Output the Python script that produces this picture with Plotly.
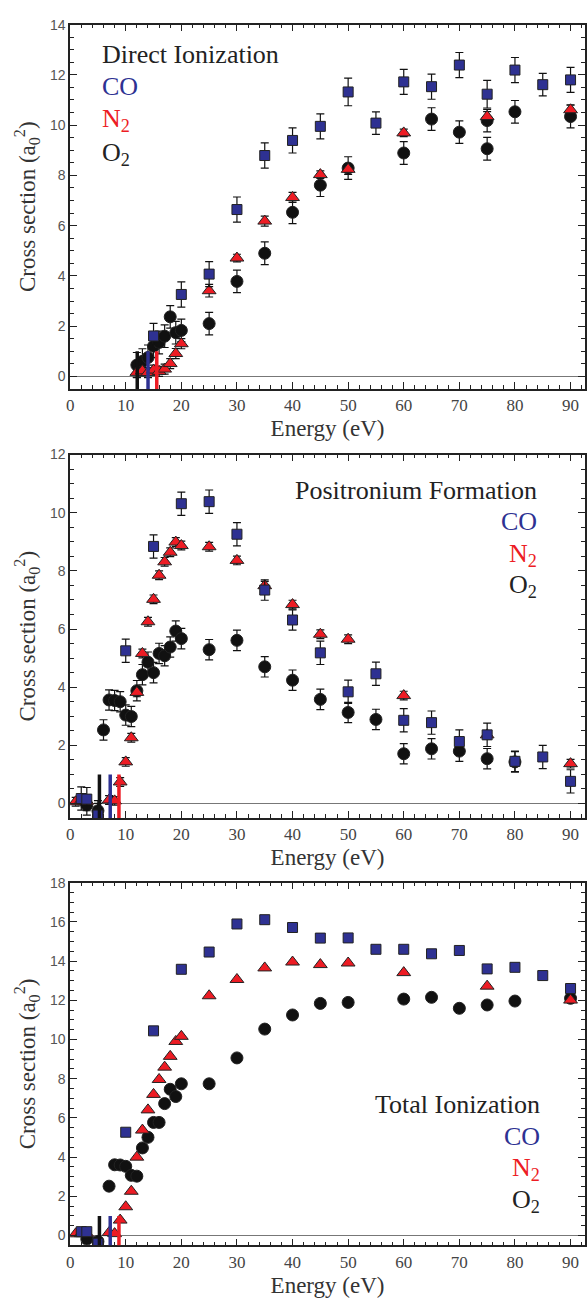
import plotly.graph_objects as go

# ---------------- data ----------------
# Panel 1: Direct ionization
di_co_x = [15, 20, 25, 30, 35, 40, 45, 50, 55, 60, 65, 70, 75, 80, 85, 90]
di_co_y = [1.61, 3.26, 4.07, 6.64, 8.79, 9.39, 9.95, 11.32, 10.08, 11.72, 11.53, 12.39, 11.23, 12.19, 11.61, 11.8]
di_co_err = [0.5, 0.5, 0.5, 0.5, 0.5, 0.5, 0.5, 0.55, 0.45, 0.5, 0.5, 0.5, 0.55, 0.5, 0.45, 0.5]

di_n2_x = [12, 13, 14, 15, 16, 17, 18, 19, 20, 25, 30, 35, 40, 45, 50, 60, 75, 90]
di_n2_y = [0.16, 0.22, 0.15, 0.25, 0.2, 0.29, 0.51, 0.91, 1.3, 3.41, 4.71, 6.18, 7.12, 8.03, 8.24, 9.69, 10.34, 10.61]
di_n2_err = [0.2, 0.2, 0.2, 0.2, 0.2, 0.2, 0.2, 0.2, 0.2, 0.25, 0.15, 0.2, 0.2, 0.15, 0.2, 0.15, 0.2, 0.2]

di_o2_x = [12, 13, 14, 15, 16, 17, 18, 19, 20, 25, 30, 35, 40, 45, 50, 60, 65, 70, 75, 75, 80, 90]
di_o2_y = [0.45, 0.6, 0.75, 1.2, 1.35, 1.6, 2.37, 1.74, 1.83, 2.1, 3.78, 4.9, 6.53, 7.61, 8.29, 8.89, 10.24, 9.72, 10.18, 9.06, 10.53, 10.34]
di_o2_err = [0.5, 0.5, 0.5, 0.45, 0.45, 0.45, 0.45, 0.45, 0.45, 0.45, 0.45, 0.45, 0.45, 0.45, 0.45, 0.45, 0.45, 0.45, 0.45, 0.45, 0.45, 0.45]

# Panel 2: Positronium formation
ps_co_x = [2, 3, 5, 10, 15, 20, 25, 30, 35, 40, 45, 50, 55, 60, 65, 70, 75, 80, 85, 90]
ps_co_y = [0.17, 0.15, -0.4, 5.25, 8.84, 10.31, 10.38, 9.26, 7.34, 6.31, 5.18, 3.84, 4.46, 2.86, 2.78, 2.13, 2.36, 1.45, 1.6, 0.76]
ps_co_err = [0.4, 0.4, 0.4, 0.4, 0.4, 0.4, 0.4, 0.4, 0.35, 0.35, 0.4, 0.4, 0.4, 0.4, 0.4, 0.4, 0.4, 0.35, 0.4, 0.4]

ps_n2_x = [1, 2, 3, 7, 8, 9, 10, 11, 12, 13, 14, 15, 16, 17, 18, 19, 20, 25, 30, 35, 40, 45, 50, 60, 75, 90]
ps_n2_y = [0.06, 0.1, 0.08, 0.12, 0.09, 0.74, 1.43, 2.26, 3.82, 5.16, 6.25, 7.02, 7.85, 8.31, 8.64, 8.99, 8.87,
           8.83, 8.36, 7.49, 6.84, 5.82, 5.65, 3.71, 2.36, 1.37]
ps_n2_err = [0.15] * 26

ps_o2_x = [3, 5, 6, 7, 8, 9, 10, 11, 12, 13, 14, 15, 16, 17, 18, 19, 20, 25, 30, 35, 40, 45, 50, 55, 60, 65, 70, 75, 80]
ps_o2_y = [-0.05, -0.25, 2.53, 3.56, 3.54, 3.5, 3.04, 2.99, 3.88, 4.43, 4.86, 4.5, 5.16, 5.08, 5.38, 5.93, 5.67,
           5.29, 5.61, 4.7, 4.24, 3.58, 3.13, 2.89, 1.71, 1.88, 1.8, 1.54, 1.43]
ps_o2_err = [0.35] * 29

# Panel 3: Total ionization
ti_co_x = [2, 3, 5, 10, 15, 20, 25, 30, 35, 40, 45, 50, 55, 60, 65, 70, 75, 80, 85, 90]
ti_co_y = [0.2, 0.2, -0.39, 5.27, 10.44, 13.58, 14.46, 15.89, 16.11, 15.71, 15.17, 15.18, 14.6, 14.6, 14.37,
           14.54, 13.6, 13.68, 13.26, 12.6]

ti_n2_x = [1, 2, 3, 7, 8, 9, 10, 11, 12, 13, 14, 15, 16, 17, 18, 19, 20, 25, 30, 35, 40, 45, 50, 60, 75, 90]
ti_n2_y = [0.09, 0.1, 0.1, 0.15, 0.1, 0.79, 1.47, 2.26, 4.0, 5.38, 6.41, 7.2, 7.96, 8.59, 9.14, 9.9, 10.16,
           12.23, 13.06, 13.65, 13.95, 13.82, 13.9, 13.41, 12.72, 12.01]

ti_o2_x = [3, 5, 7, 8, 9, 10, 11, 12, 13, 14, 15, 16, 17, 18, 19, 20, 25, 30, 35, 40, 45, 50, 60, 65, 70, 75, 80, 90]
ti_o2_y = [-0.18, -0.3, 2.52, 3.61, 3.6, 3.53, 3.07, 3.03, 4.47, 5.01, 5.77, 5.77, 6.73, 7.46, 7.09, 7.74,
           7.74, 9.06, 10.53, 11.25, 11.84, 11.89, 12.06, 12.15, 11.59, 11.76, 11.96, 12.1]

# threshold energies (eV): O2, CO, N2
ion_thresholds = [12.07, 14.01, 15.58]
ps_thresholds = [5.27, 7.21, 8.78]

x_ticks = [0, 10, 20, 30, 40, 50, 60, 70, 80, 90]
panel_titles = ["Direct Ionization", "Positronium Formation", "Total Ionization"]
y_ranges = [[-0.5, 14], [-0.5, 12], [-0.5, 18]]

# ---------------- style ----------------
W, H = 587, 1307
CO_C = "#2E3192"
N2_C = "#ED1C24"
O2_C = "#111111"
SERIF = "Liberation Serif, Times New Roman, serif"
SANS = "Liberation Sans, Arial, sans-serif"

def py(p):  # pixel y -> paper
    return 1 - p / H

def px(p):
    return p / W

domains_px = [(16.7, 383.3), (449.3, 815.0), (880.0, 1245.0)]

fig = go.Figure()

def add_series(i, xs, ys, err, symbol, color, size):
    ax = "" if i == 0 else str(i + 1)
    kw = {}
    if err is not None:
        kw["error_y"] = dict(type="data", array=err, visible=True, color="#111", thickness=1.2, width=4)
    fig.add_trace(go.Scatter(
        x=xs, y=ys, mode="markers", xaxis="x" + ax, yaxis="y" + ax, showlegend=False,
        marker=dict(symbol=symbol, size=size, color=color, line=dict(color="#222", width=1)),
        **kw))

series = [
    [(di_co_x, di_co_y, di_co_err), (di_n2_x, di_n2_y, di_n2_err), (di_o2_x, di_o2_y, di_o2_err)],
    [(ps_co_x, ps_co_y, ps_co_err), (ps_n2_x, ps_n2_y, ps_n2_err), (ps_o2_x, ps_o2_y, ps_o2_err)],
    [(ti_co_x, ti_co_y, None), (ti_n2_x, ti_n2_y, None), (ti_o2_x, ti_o2_y, None)],
]
thresholds = [ion_thresholds, ps_thresholds, ps_thresholds]

for i, (co, n2, o2) in enumerate(series):
    add_series(i, *o2, "circle", O2_C, 12)
    add_series(i, *n2, "triangle-up", N2_C, 12)
    add_series(i, *co, "square", CO_C, 10)

xtick_font = dict(family=SERIF, size=17, color="#444")
ytick_font = dict(family=SANS, size=14, color="#555")
title_font = dict(family=SERIF, size=23, color="#333")

layout = dict(
    width=W, height=H, margin=dict(l=0, r=0, t=0, b=0),
    paper_bgcolor="white", plot_bgcolor="white",
    shapes=[], annotations=[],
)

for i in range(3):
    ax = "" if i == 0 else str(i + 1)
    top, bot = domains_px[i]
    layout["xaxis" + ax] = dict(
        domain=[px(66.7), px(586)], range=[0, 92.6], anchor="y" + ax,
        tickvals=x_ticks, ticks="inside", ticklen=7, tickwidth=1.2, tickcolor="#222",
        minor=dict(dtick=2, ticks="inside", ticklen=4, tickcolor="#222"),
        showline=True, linecolor="#222", linewidth=1.5, mirror="allticks",
        showgrid=False, zeroline=False, tickfont=xtick_font,
        title=dict(text="Energy (eV)", font=title_font, standoff=6),
    )
    layout["yaxis" + ax] = dict(
        domain=[py(bot), py(top)], range=y_ranges[i], anchor="x" + ax,
        dtick=2, tick0=0, ticks="inside", ticklen=7, tickwidth=1.2, tickcolor="#222",
        minor=dict(dtick=0.5, ticks="inside", ticklen=4, tickcolor="#222"),
        showline=True, linecolor="#222", linewidth=1.5, mirror="allticks",
        showgrid=False, zeroline=True, zerolinecolor="#777", zerolinewidth=1.2,
        tickfont=ytick_font,
        title=dict(text="Cross section (a<sub>0</sub><sup>2</sup>)", font=title_font, standoff=8),
    )
    for e, c in zip(thresholds[i], [O2_C, CO_C, N2_C]):
        layout["shapes"].append(dict(type="line", xref="x" + ax, yref="y" + ax,
                                     x0=e, x1=e, y0=y_ranges[i][0], y1=1,
                                     line=dict(color=c, width=3.5)))

# panel labels / legends
leg_font = dict(family=SERIF, size=26)
# panel 1: left aligned
lx = px(97)
for txt, ypx, col in [(panel_titles[0], 47, "#222"), ("CO", 79, CO_C), ("N<sub>2</sub>", 113, N2_C),
                      ("O<sub>2</sub>", 147, "#222")]:
    layout["annotations"].append(dict(text=txt, x=lx, y=py(ypx), xref="paper", yref="paper",
                                      xanchor="left", yanchor="middle", showarrow=False,
                                      font=dict(leg_font, color=col)))
# panel 2 & 3: right aligned
for title, base, rx in [(panel_titles[1], 485, 540), (panel_titles[2], 1103, 543)]:
    for txt, dy, col in [(title, 0, "#222"), ("CO", 32, CO_C), ("N<sub>2</sub>", 65, N2_C),
                         ("O<sub>2</sub>", 97, "#222")]:
        layout["annotations"].append(dict(text=txt, x=px(rx), y=py(base + dy), xref="paper", yref="paper",
                                          xanchor="right", yanchor="middle", showarrow=False,
                                          font=dict(leg_font, color=col)))

fig.update_layout(**layout)
fig.write_html("out.html")
